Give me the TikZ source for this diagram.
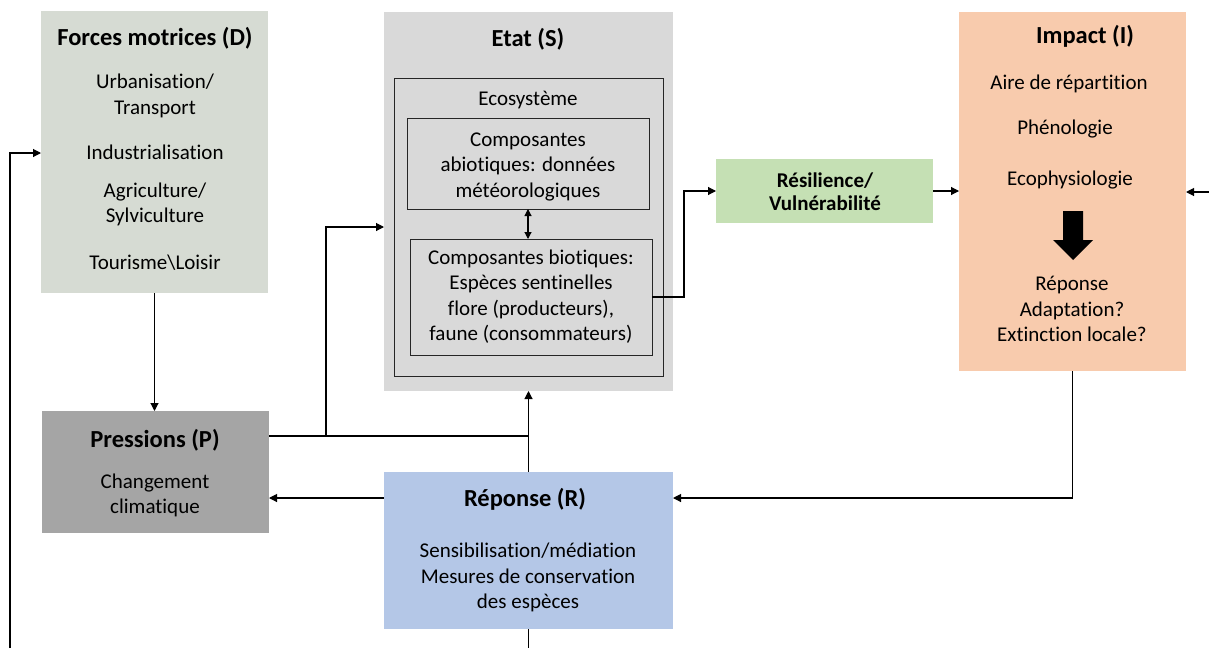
\documentclass[tikz,border=0pt]{standalone}
\usepackage{fontspec}
\setmainfont{Carlito}[Ligatures=NoCommon]
\usetikzlibrary{arrows.meta}

\definecolor{drivecol}{HTML}{D6DBD3}
\definecolor{statecol}{HTML}{D9D9D9}
\definecolor{presscol}{HTML}{A5A5A5}
\definecolor{respcol}{HTML}{B4C7E7}
\definecolor{impcol}{HTML}{F8CBAD}
\definecolor{rescol}{HTML}{C5E0B4}

\begin{document}
\begin{tikzpicture}[x=1pt, y=-1pt,
  box/.style={rectangle, inner sep=0pt, outer sep=0pt},
  inbox/.style={box, draw=black!85, line width=0.9pt},
  txt/.style={anchor=base, align=center, inner sep=0pt, font=\fontsize{21}{25.5}\selectfont},
  head/.style={txt, font=\fontsize{24.5}{29}\selectfont\bfseries},
  fl/.style={-{Triangle[length=8pt,width=8pt]}},
  link/.style={line width=1.1pt}]
\useasboundingbox (0,0) rectangle (1209,648);

% boites
\node[box, fill=drivecol, minimum width=227pt, minimum height=282pt] (D) at (154.5,152) {};
\node[box, fill=statecol, minimum width=289pt, minimum height=379pt] (S) at (528.5,201.5) {};
\node[inbox, minimum width=269pt, minimum height=298pt] (eco) at (528.5,227) {};
\node[inbox, minimum width=242pt, minimum height=91pt] (abio) at (528,163.5) {};
\node[inbox, minimum width=242pt, minimum height=116pt] (bio) at (531,297) {};
\node[box, fill=rescol, minimum width=217pt, minimum height=64pt] (RV) at (824.5,191) {};
\node[box, fill=impcol, minimum width=227pt, minimum height=359pt] (I) at (1072.5,191.5) {};
\node[box, fill=presscol, minimum width=227pt, minimum height=122pt] (P) at (155.5,472) {};
\node[box, fill=respcol, minimum width=289pt, minimum height=157pt] (R) at (528.5,550.5) {};

% textes (base = derniere ligne)
\node[head] (Dh) at (155,45) {Forces motrices (D)};
\node[txt] (D1) at (155,114) {Urbanisation/\\Transport};
\node[txt] (D2) at (155,159.5) {Industrialisation};
\node[txt] (D3) at (155,222.5) {Agriculture/\\Sylviculture};
\node[txt] (D4) at (155,269.5) {Tourisme\textbackslash Loisir};

\node[head] (Sh) at (528,46) {Etat (S)};
\node[txt] (Se) at (528,105.5) {Ecosystème};
\node[txt] (Sa) at (528,197) {Composantes\\abiotiques: données\\météorologiques};
\node[txt] (Sb) at (531,340.5) {Composantes biotiques:\\Espèces sentinelles\\flore (producteurs),\\faune (consommateurs)};

\node[txt, font=\fontsize{21}{23.5}\selectfont\bfseries] (RVh) at (825,210.5) {Résilience/\\Vulnérabilité};

\node[head] (Ih) at (1085,43) {Impact (I)};
\node[txt] (I1) at (1069,89.5) {Aire de répartition};
\node[txt] (I2) at (1065,134.5) {Phénologie};
\node[txt] (I3) at (1070,185.5) {Ecophysiologie};
\node[txt] (I4) at (1072,341.5) {Réponse\\Adaptation?\\Extinction locale?};
\fill (1063,211) -- (1083,211) -- (1083,240) -- (1093,240) -- (1073,260)
  -- (1053,240) -- (1063,240) -- cycle;

\node[head] (Ph) at (155,447) {Pressions (P)};
\node[txt] (P1) at (155,513.5) {Changement\\climatique};

\node[head] (Rh) at (525,506) {Réponse (R)};
\node[txt] (R1) at (528,608.5) {Sensibilisation/médiation\\Mesures de conservation\\des espèces};

% liens
\coordinate (pj) at (528.5,436);
\coordinate (pk) at (326,436);
\coordinate (leftEnd) at (10,648);
\coordinate (rightEnd) at (1209,192);
\coordinate (botEnd) at (528.5,648);
\coordinate (bk) at (684,297);

\draw[link, fl] (D.south) -- (D.south |- P.north);
\draw[link] (P.east |- pj) -- (pj);
\draw[link, fl] (pk) |- (S.west |- 0,227);
\draw[link, fl] (R.north) -- (S.south);
\draw[link, fl] (R.west |- 0,498) -- (P.east |- 0,498);
\draw[link, fl] (I.south) |- (R.east |- 0,498);
\draw[link, {Triangle[length=7pt,width=7pt]}-{Triangle[length=7pt,width=7pt]}] (abio.south) -- (abio.south |- bio.north);
\draw[link, fl] (bio.east) -- (bk) |- (RV.west);
\draw[link, fl] (RV.east) -- (I.west |- RV.east);
\draw[link, fl] (rightEnd) -- (I.east |- rightEnd);
\draw[link] (R.south) -- (botEnd);
\draw[link, fl] (leftEnd) |- (D.west |- 0,153);
\end{tikzpicture}
\end{document}
